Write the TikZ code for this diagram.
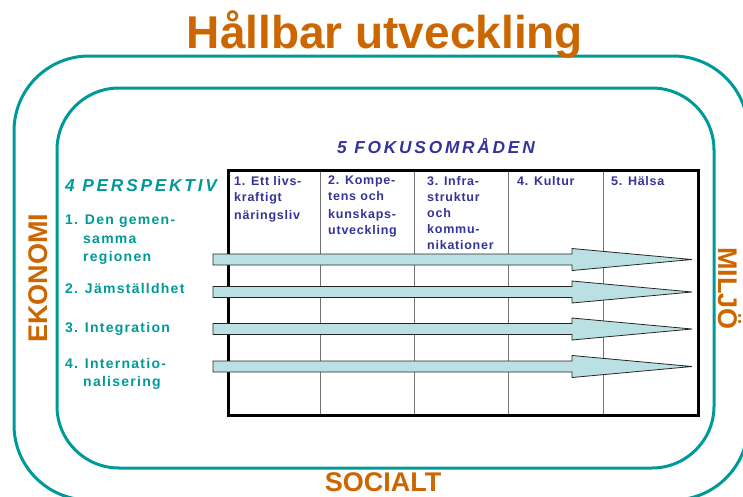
\documentclass[tikz,border=0pt]{standalone}
\usepackage{fontspec}
\setmainfont{Liberation Sans}
\newfontfamily\spfont[LetterSpace=9]{Liberation Sans}
\newfontfamily\hdrfont[LetterSpace=6]{Liberation Sans}
\newfontfamily\wideitfont[LetterSpace=16]{Liberation Sans}
\definecolor{tealc}{RGB}{0,153,153}
\definecolor{orngc}{RGB}{204,102,0}
\definecolor{navyc}{RGB}{51,51,153}
\definecolor{arrc}{RGB}{187,224,227}
\begin{document}
\begin{tikzpicture}[x=1pt,y=-1pt,
  ring/.style={draw=tealc, line width=3pt},
  dim/.style={font=\bfseries\fontsize{27}{30}\selectfont, text=orngc, inner sep=0pt},
  hdr/.style={font=\hdrfont\bfseries\fontsize{12.5}{16}\selectfont, text=navyc, anchor=north west, align=left, inner sep=0pt},
  persp/.style={font=\spfont\bfseries\fontsize{14}{18.5}\selectfont, text=tealc, anchor=north west, align=left, inner sep=0pt},
  heading/.style={font=\wideitfont\bfseries\itshape\fontsize{17.3}{20}\selectfont, anchor=base west, inner sep=0pt},
  colline/.style={draw=black!55, line width=0.8pt},
  arrowbar/.style={draw=black!85, fill=arrc, line width=0.8pt}]
\useasboundingbox (0,0) rectangle (743,496);
\clip (0,0) rectangle (743,496);

% rings
\draw[ring, rounded corners=75pt] (14,56) rectangle (748,500);
\draw[ring, rounded corners=62pt] (57,88) rectangle (714,468);

% title and dimension labels
\node[font=\bfseries\fontsize{46}{50}\selectfont, text=orngc, anchor=base, inner sep=0pt] (title) at (385,48) {Hållbar utveckling};
\node[dim, anchor=base] (socialt) at (383,491) {SOCIALT};
\node[dim, rotate=90, anchor=base west] (ekonomi) at (47,343) {EKONOMI};
\node[dim, rotate=-90, anchor=base west] (miljo) at (718,247) {MILJÖ};

% headings
\node[heading, text=navyc] (fokus) at (337,153) {5 FOKUSOMRÅDEN};
\node[heading, text=tealc] (persp) at (65,191) {4 PERSPEKTIV};

% table
\foreach \x in {320,414,508,603} \draw[colline] (\x,169) -- (\x,414);
\node[draw=black, line width=3pt, minimum width=470pt, minimum height=245pt, anchor=north west, inner sep=0pt] (table) at (227,169) {};

% column headers
\node[hdr] (c1) at (234,176) {1. Ett livs-\\kraftigt\\[2pt]näringsliv};
\node[hdr] (c2) at (328,176) {2. Kompe-\\tens och\\[2pt]kunskaps-\\utveckling};
\node[hdr] (c3) at (427,176) {3. Infra-\\struktur\\och\\kommu-\\nikationer};
\node[hdr] (c4) at (517,176) {4. Kultur};
\node[hdr] (c5) at (611,176) {5. Hälsa};

% perspectives
\node[persp] (p1) at (65,215) {1. Den gemen-\\\hspace*{18pt}samma\\\hspace*{18pt}regionen};
\node[persp] (p2) at (65,283) {2. Jämställdhet};
\node[persp] (p3) at (65,322) {3. Integration};
\node[persp] (p4) at (65,358) {4. Internatio-\\\hspace*{18pt}nalisering};

% arrows
\foreach \c in {259.5,292,329,366.5}
  \draw[arrowbar] (213,\c-5.5) -- (572,\c-5.5) -- (572,\c-11) -- (692,\c)
     -- (572,\c+11) -- (572,\c+5.5) -- (213,\c+5.5) -- cycle;
\end{tikzpicture}
\end{document}
